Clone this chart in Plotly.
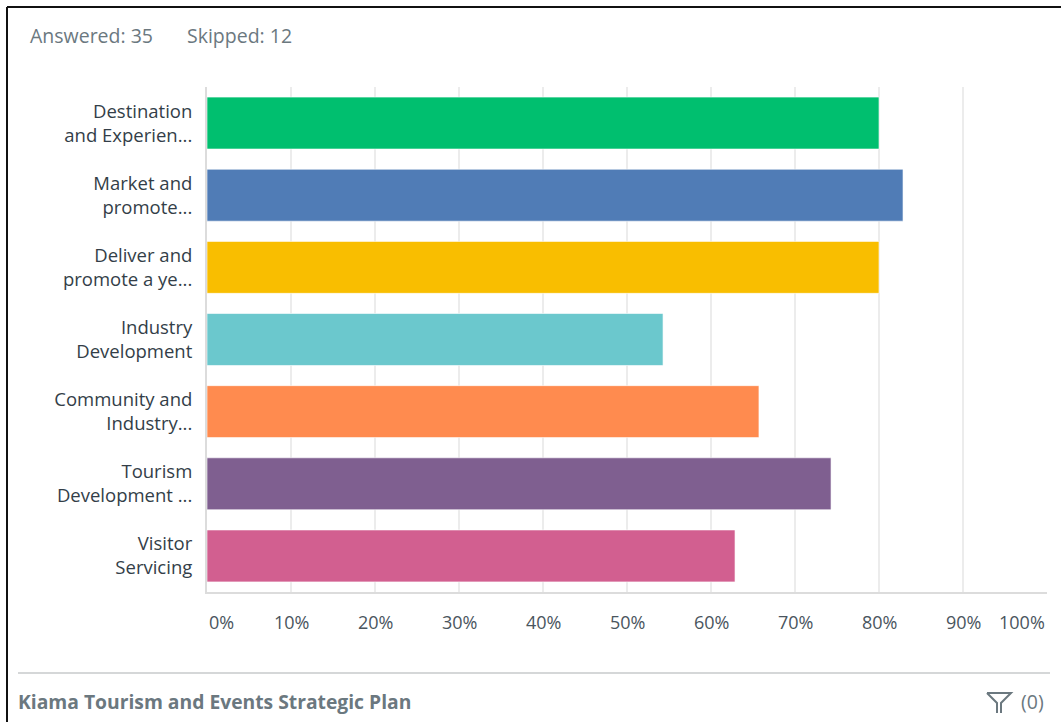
import plotly.graph_objects as go

# Survey responses per strategic theme (share of 35 respondents, %)
categories = [
    "Destination<br>and Experien...",
    "Market and<br>promote...",
    "Deliver and<br>promote a ye...",
    "Industry<br>Development",
    "Community and<br>Industry...",
    "Tourism<br>Development ...",
    "Visitor<br>Servicing",
]
values = [80.00, 82.86, 80.00, 54.29, 65.71, 74.29, 62.86]
colors = ["#00bf6f", "#507cb6", "#f9be00", "#6bc8cd", "#ff8b4f", "#7f5f90", "#d25f90"]
tick_vals = [0, 10, 20, 30, 40, 50, 60, 70, 80, 90, 100]
tick_text = ["0%", "10%", "20%", "30%", "40%", "50%", "60%", "70%", "80%", "90%", "100%"]
answered, skipped = 35, 12
question_title = "Kiama Tourism and Events Strategic Plan"
filter_count = 0

W, H = 1061, 722
ML, MR, MT, MB = 207, 14, 87, 130
PW, PH = W - ML - MR, H - MT - MB

FONT = "Open Sans"
TEXT = "#333e48"
MUTED = "#6b787f"


def px(x):
    return (x - ML) / PW


def py(y):
    return 1 - (y - MT) / PH


fig = go.Figure(
    go.Bar(
        x=values,
        y=categories,
        orientation="h",
        width=0.72,
        marker=dict(color=colors, line=dict(color="rgba(255,255,255,0.6)", width=1)),
        hoverinfo="skip",
    )
)

fig.update_layout(
    width=W,
    height=H,
    autosize=False,
    margin=dict(l=ML, r=MR, t=MT, b=MB, pad=0),
    paper_bgcolor="white",
    plot_bgcolor="white",
    showlegend=False,
    font=dict(family=FONT, color=TEXT),
)

fig.update_xaxes(
    range=[0, 100],
    tickvals=tick_vals,
    showticklabels=False,
    showgrid=True,
    gridcolor="#ececec",
    gridwidth=2,
    zeroline=False,
    showline=True,
    linecolor="#dcdcdc",
    linewidth=2,
    fixedrange=True,
)
fig.update_yaxes(
    autorange="reversed",
    showgrid=False,
    showline=True,
    linecolor="#dcdcdc",
    linewidth=2,
    ticks="",
    ticklabelstandoff=9,
    tickfont=dict(family=FONT, size=18.5, color=TEXT),
    fixedrange=True,
)

annotations = []
# x-axis tick labels: the edge labels are justified to the plot edges
for v, t in zip(tick_vals, tick_text):
    anchor = "left" if v == tick_vals[0] else ("right" if v == tick_vals[-1] else "center")
    annotations.append(dict(
        x=v, xref="x", y=py(622), yref="paper", text=t, showarrow=False,
        xanchor=anchor, yanchor="middle", font=dict(family=FONT, size=18, color="#4a555e"),
    ))

annotations += [
    dict(x=px(28), y=py(36), xref="paper", yref="paper", text=f"Answered: {answered}",
         showarrow=False, xanchor="left", yanchor="middle",
         font=dict(family=FONT, size=19.5, color=MUTED)),
    dict(x=px(185), y=py(36), xref="paper", yref="paper", text=f"Skipped: {skipped}",
         showarrow=False, xanchor="left", yanchor="middle",
         font=dict(family=FONT, size=19.5, color=MUTED)),
    dict(x=px(16), y=py(701), xref="paper", yref="paper", text=f"<b>{question_title}</b>",
         showarrow=False, xanchor="left", yanchor="middle",
         font=dict(family=FONT, size=19.3, color=MUTED)),
    dict(x=px(1046), y=py(701), xref="paper", yref="paper", text=f"({filter_count})",
         showarrow=False, xanchor="right", yanchor="middle",
         font=dict(family=FONT, size=19.5, color=MUTED)),
]

shapes = [
    # frame edges
    dict(type="line", xref="paper", yref="paper", x0=px(7), x1=px(W), y0=py(7), y1=py(7),
         line=dict(color="#111111", width=2)),
    dict(type="line", xref="paper", yref="paper", x0=px(7), x1=px(7), y0=py(7), y1=py(H),
         line=dict(color="#111111", width=2)),
    # footer separator
    dict(type="line", xref="paper", yref="paper", x0=px(18), x1=px(1050), y0=py(673), y1=py(673),
         line=dict(color="#d5d7d8", width=2)),
    # filter funnel icon
    dict(type="path", xref="paper", yref="paper",
         path=(f"M {px(987)},{py(693)} L {px(1011)},{py(693)} L {px(1001)},{py(703)} "
               f"L {px(1001)},{py(713)} M {px(987)},{py(693)} L {px(997)},{py(703)} "
               f"L {px(997)},{py(713)}"),
         line=dict(color=MUTED, width=2)),
]

fig.update_layout(annotations=annotations, shapes=shapes)

fig.write_html("out.html")
